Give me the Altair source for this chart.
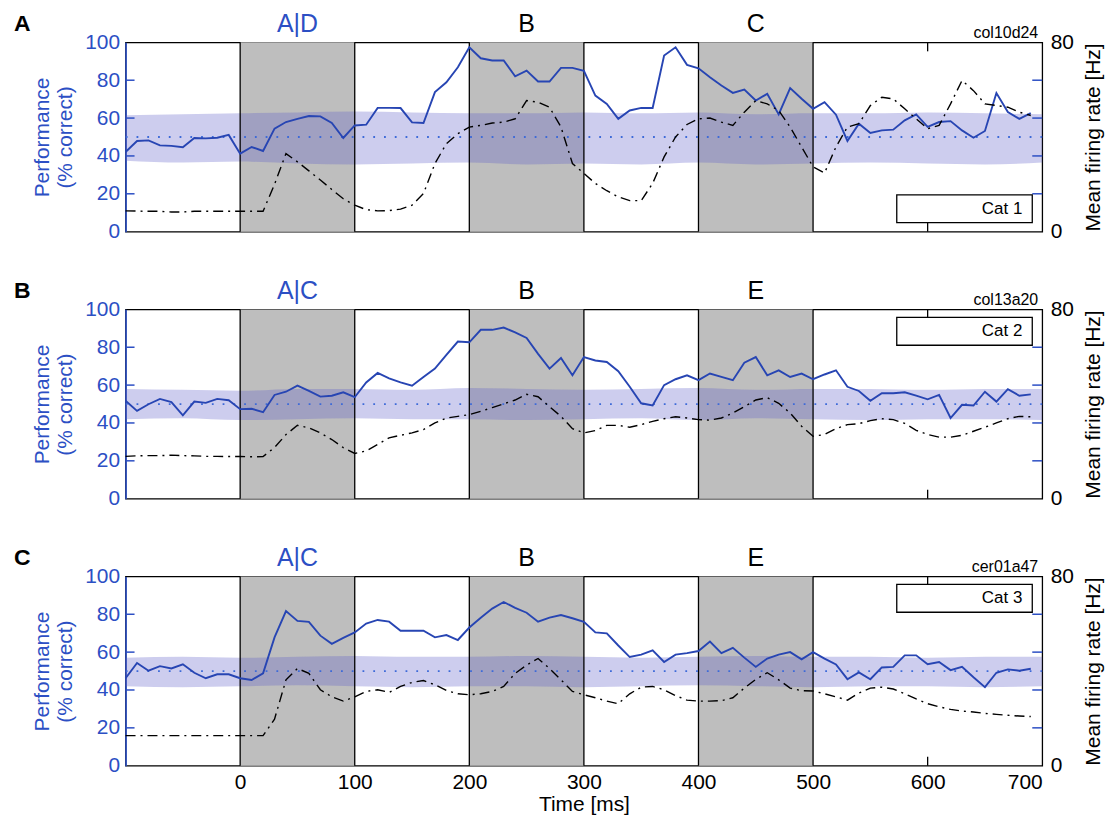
import altair as alt
import pandas as pd

# ---------------- data ----------------
T = list(range(-100, 700, 10))          # 80 samples, 10 ms apart
BAND_T = list(range(-100, 701, 50))      # chance-band outline samples

perf_A = [42.1, 47.9, 48.2, 45.6, 45.3, 44.6, 49.5, 49.3, 49.6, 51.1,
          41.2, 44.7, 42.6, 54.4, 57.9, 59.6, 61.1, 60.9, 57.4, 49.5,
          56.1, 56.5, 65.4, 65.4, 65.3, 57.7, 57.4, 73.7, 78.9, 86.8,
          97.4, 91.6, 90.4, 90.4, 82.1, 85.1, 79.3, 79.3, 86.5, 86.5,
          85.0, 71.9, 67.5, 59.6, 64.0, 65.4, 65.3, 93.0, 97.4, 88.1,
          86.3, 81.6, 77.2, 73.3, 75.1, 69.3, 72.8, 61.9, 75.8, 70.2,
          64.9, 68.4, 61.8, 47.9, 57.0, 52.1, 53.5, 53.9, 58.8, 61.9,
          55.3, 57.9, 58.4, 53.5, 49.6, 53.2, 73.2, 63.2, 59.6, 62.6]
fr_A = [8.8, 8.7, 8.6, 8.6, 8.3, 8.3, 8.6, 8.6, 8.6, 8.6,
        8.6, 8.6, 8.6, 20.0, 33.0, 29.5, 25.7, 21.8, 17.8, 13.9,
        11.2, 9.3, 8.8, 8.9, 9.5, 11.2, 16.1, 28.8, 37.2, 41.4,
        44.2, 44.9, 45.9, 46.3, 47.7, 55.4, 54.7, 52.6, 44.2, 28.8,
        24.6, 20.4, 17.3, 14.7, 13.1, 13.1, 20.4, 31.6, 40.0, 45.3,
        47.7, 48.0, 46.3, 44.9, 50.5, 55.4, 54.0, 51.2, 44.2, 35.8,
        27.4, 24.8, 35.8, 44.2, 45.6, 53.3, 56.8, 56.1, 51.9, 47.7,
        43.5, 44.9, 54.0, 63.9, 59.6, 54.0, 53.3, 52.6, 50.5, 49.1]
band_hi_A = [61.5, 62, 62.5, 63, 63.5, 63, 62.5, 62.5, 63, 62.5, 63, 62, 62.5, 62.5, 63, 62.5, 62]
band_lo_A = [37.5, 36.5, 37, 36, 35.5, 36, 36.5, 35.5, 36, 35.5, 36.5, 35.5, 36, 36.5, 36, 35.5, 36.5]

perf_B = [51.7, 46.4, 49.9, 52.7, 51.0, 44.0, 51.3, 50.6, 52.7, 52.0,
          47.3, 47.5, 45.7, 54.8, 56.5, 59.7, 56.9, 53.9, 54.4, 56.2,
          53.6, 61.4, 66.4, 63.5, 61.4, 59.7, 64.3, 68.7, 76.0, 83.0,
          82.6, 89.2, 89.2, 90.4, 87.8, 84.9, 76.5, 68.7, 74.3, 65.2,
          74.8, 73.0, 72.2, 67.3, 59.1, 50.4, 49.2, 60.0, 63.1, 65.2,
          62.6, 66.1, 64.3, 62.6, 71.8, 74.8, 65.2, 67.8, 64.3, 66.1,
          63.1, 65.6, 67.8, 59.1, 56.9, 51.7, 55.7, 55.7, 56.2, 54.4,
          52.5, 54.8, 42.6, 49.6, 49.2, 56.5, 51.3, 57.9, 54.4, 55.1]
fr_B = [17.9, 18.1, 18.2, 18.2, 18.4, 18.2, 18.1, 17.9, 17.9, 17.8,
        17.8, 17.7, 17.8, 21.6, 27.1, 31.0, 29.9, 27.8, 25.0, 21.6,
        19.1, 20.2, 22.9, 25.7, 26.8, 27.8, 29.2, 32.0, 34.1, 34.8,
        35.5, 36.9, 38.5, 40.1, 41.7, 44.1, 43.1, 38.9, 34.8, 29.6,
        27.8, 28.8, 31.0, 31.0, 30.2, 31.3, 32.7, 33.8, 34.6, 34.1,
        33.4, 33.2, 34.1, 36.2, 38.9, 41.7, 42.7, 40.3, 36.2, 30.6,
        26.4, 27.1, 29.6, 31.3, 31.7, 33.0, 33.8, 33.4, 31.8, 28.9,
        27.1, 26.0, 26.0, 26.8, 28.5, 30.2, 32.0, 33.8, 34.8, 34.6]
band_hi_B = [58, 57.5, 57, 58, 58, 57.5, 58.5, 58, 57.5, 58, 58.5, 57.5, 58, 58, 57.5, 58, 58]
band_lo_B = [42, 42.5, 41.5, 42, 42.5, 42, 42, 41.5, 42, 42.5, 41.5, 42.5, 42, 41.5, 42, 42, 41.5]

perf_C = [46.2, 54.3, 50.2, 52.6, 51.4, 53.6, 49.1, 46.2, 48.3, 48.3,
          46.2, 45.3, 48.8, 67.8, 81.7, 76.5, 76.0, 68.7, 64.4, 67.5,
          70.4, 75.1, 77.0, 76.1, 71.3, 71.3, 71.3, 67.8, 69.0, 66.4,
          73.0, 78.2, 83.0, 86.5, 83.4, 80.8, 76.1, 78.2, 79.6, 77.9,
          76.0, 70.4, 69.9, 63.5, 57.4, 58.7, 60.9, 54.8, 58.7, 59.5,
          60.6, 65.6, 59.5, 62.3, 57.1, 52.2, 56.6, 58.7, 60.0, 56.2,
          60.0, 56.6, 53.5, 45.7, 49.3, 45.7, 51.9, 52.2, 58.3, 58.3,
          53.6, 54.8, 50.5, 52.2, 46.7, 41.5, 49.1, 50.9, 50.2, 51.2]
fr_C = [12.7, 12.7, 12.7, 12.7, 12.7, 12.7, 12.7, 12.7, 12.7, 12.7,
        12.7, 12.7, 12.7, 19.7, 36.3, 41.1, 39.0, 32.1, 29.1, 27.3,
        29.1, 31.4, 32.1, 31.0, 33.5, 35.2, 36.0, 34.2, 31.8, 30.4,
        30.0, 30.4, 31.4, 33.5, 39.0, 42.5, 45.3, 41.1, 36.3, 31.4,
        30.0, 28.7, 27.3, 26.2, 30.4, 33.2, 33.5, 32.1, 29.6, 27.7,
        27.3, 27.3, 27.5, 28.7, 32.8, 36.5, 39.3, 36.3, 32.8, 31.7,
        31.6, 30.4, 29.1, 27.7, 30.7, 32.8, 33.2, 32.4, 30.4, 28.2,
        26.2, 24.9, 23.8, 23.1, 22.7, 22.1, 21.7, 21.3, 21.0, 20.8]
band_hi_C = [57, 57.5, 57, 57.5, 58, 57.5, 57.5, 58, 57.5, 57, 57.5, 58, 57.5, 57.5, 57, 57.5, 57.5]
band_lo_C = [42, 41.5, 42, 42.5, 42, 41.5, 42, 42, 41.5, 42, 42.5, 42, 41.5, 42, 42, 41.5, 42]

BOX_START = [0, 200, 400]
BOX_END = [100, 300, 500]
EDGES = [0, 100, 200, 300, 400, 500]
STIM_CENTER = [50, 250, 450]
STIM_A = ["A|D", "B", "C"]
STIM_B = ["A|C", "B", "E"]
STIM_C = ["A|C", "B", "E"]
PANEL_LETTERS = ["A", "B", "C"]
CELL_IDS = ["col10d24", "col13a20", "cer01a47"]
CATS = ["Cat 1", "Cat 2", "Cat 3"]
PERF_TICKS = [0, 20, 40, 60, 80, 100]
INNER_TICKS = [20, 40, 60, 80]
TIME_TICKS = [0, 100, 200, 300, 400, 500, 600, 700]
FR_TICKS = [0, 80]
CHANCE = [50]

# ---------------- style ----------------
W, H = 920, 190
BLUE_LINE = "#2745b3"
BLUE_TXT = "#2c4fc4"
FONT = "Liberation Sans"

xs = alt.Scale(domain=[-100, 700], nice=False, zero=False)
ys = alt.Scale(domain=[0, 100], nice=False, zero=False)
frs = alt.Scale(domain=[0, 80], nice=False, zero=False)


def panel(idx, perf, fr, hi, lo, stim, legend_top, last):
    line_df = pd.DataFrame({"t": T, "perf": perf, "fr": fr})
    band_df = pd.DataFrame({"t": BAND_T, "hi": hi, "lo": lo})
    box_df = pd.DataFrame({"s": BOX_START, "e": BOX_END})
    edge_df = pd.DataFrame({"t": EDGES})
    stim_df = pd.DataFrame({"t": STIM_CENTER, "lab": stim,
                            "col": [BLUE_TXT, "black", "black"]})
    tick_df = pd.DataFrame({"v": INNER_TICKS})
    chance_df = pd.DataFrame({"v": CHANCE})
    t600 = pd.DataFrame({"t": [600]})
    one = pd.DataFrame({"k": [0]})

    if last:
        xax = alt.Axis(values=TIME_TICKS, title="Time [ms]", labelFontSize=21, titleFontSize=21,
                       titleFontWeight="normal", ticks=False, domain=False, grid=False,
                       labelPadding=6, titlePadding=1, labelColor="black", titleColor="black",
                       labelFont=FONT, titleFont=FONT)
    else:
        xax = None
    yax = alt.Axis(values=PERF_TICKS, title=["Performance", "(% correct)"], labelColor=BLUE_TXT,
                   titleColor=BLUE_TXT, labelFontSize=21, titleFontSize=21, titleFontWeight="normal",
                   ticks=False, domainColor=BLUE_TXT, domainWidth=1.6, grid=False, labelPadding=6,
                   titlePadding=9, labelFont=FONT, titleFont=FONT, orient="left")

    def X(f):
        return alt.X(f, scale=xs, axis=xax)

    def Y(f):
        return alt.Y(f, scale=ys, axis=yax)

    boxes = alt.Chart(box_df).mark_rect(color="#bebebe").encode(x=X("s:Q"), x2="e:Q")
    band = alt.Chart(band_df).mark_area(color="#5e5ec8", opacity=0.31, interpolate="monotone").encode(
        x=X("t:Q"), y=Y("hi:Q"), y2="lo:Q")
    edges = alt.Chart(edge_df).mark_rule(color="black", strokeWidth=1.3).encode(x=X("t:Q"))
    chance = alt.Chart(chance_df).mark_rule(color="#3d6ad8", strokeDash=[1.8, 9], strokeWidth=1.8).encode(
        y=Y("v:Q"))
    perf_line = alt.Chart(line_df).mark_line(color=BLUE_LINE, strokeWidth=1.9).encode(
        x=X("t:Q"), y=Y("perf:Q"))

    ltick = alt.Chart(tick_df).mark_rule(color=BLUE_TXT, strokeWidth=1.5).encode(
        y=Y("v:Q"), x=alt.value(0), x2=alt.value(9))
    rtick = alt.Chart(tick_df).mark_rule(color=BLUE_TXT, strokeWidth=1.5).encode(
        y=Y("v:Q"), x=alt.value(W - 10), x2=alt.value(W))
    ttop = alt.Chart(t600).mark_rule(color="black", strokeWidth=1.3).encode(
        x=X("t:Q"), y=alt.value(0), y2=alt.value(9))
    tbot = alt.Chart(t600).mark_rule(color="black", strokeWidth=1.3).encode(
        x=X("t:Q"), y=alt.value(H - 9), y2=alt.value(H))

    leg_box = alt.Chart(one).mark_rect(fill="white", stroke="black", strokeWidth=1.3).encode(
        x=alt.value(774), x2=alt.value(910), y=alt.value(legend_top), y2=alt.value(legend_top + 28))
    leg_txt = alt.Chart(one).mark_text(align="right", baseline="middle", fontSize=17, font=FONT,
                                       color="black").encode(
        x=alt.value(900), y=alt.value(legend_top + 14), text=alt.value(CATS[idx]))

    stim_txt = alt.Chart(stim_df).mark_text(baseline="middle", fontSize=25, font=FONT).encode(
        x=X("t:Q"), y=alt.value(-18), text="lab:N", color=alt.Color("col:N", scale=None))
    letter = alt.Chart(one).mark_text(align="left", baseline="middle", fontSize=23, fontWeight="bold",
                                      font=FONT, color="black").encode(
        x=alt.value(-112), y=alt.value(-18), text=alt.value(PANEL_LETTERS[idx]))
    cell = alt.Chart(one).mark_text(align="right", baseline="middle", fontSize=16, font=FONT,
                                    color="black").encode(
        x=alt.value(W - 4), y=alt.value(-9), text=alt.value(CELL_IDS[idx]))

    perf_group = alt.layer(boxes, band, edges, chance, perf_line, ltick, rtick, ttop, tbot,
                           leg_box, leg_txt, stim_txt, letter, cell)

    frax = alt.Axis(values=FR_TICKS, orient="right", title="Mean firing rate [Hz]", titleAngle=270,
                    titleBaseline="top", labelFontSize=21, titleFontSize=21, titleFontWeight="normal",
                    ticks=False, domain=False, grid=False, labelPadding=8, titlePadding=9,
                    labelColor="black", titleColor="black", labelFont=FONT, titleFont=FONT)
    fr_line = alt.Chart(line_df).mark_line(color="black", strokeWidth=1.4,
                                           strokeDash=[10, 5, 2, 5]).encode(
        x=X("t:Q"), y=alt.Y("fr:Q", scale=frs, axis=frax))

    return alt.layer(perf_group, fr_line).resolve_scale(y="independent").properties(width=W, height=H)


pA = panel(0, perf_A, fr_A, band_hi_A, band_lo_A, STIM_A, 153, False)
pB = panel(1, perf_B, fr_B, band_hi_B, band_lo_B, STIM_B, 8, False)
pC = panel(2, perf_C, fr_C, band_hi_C, band_lo_C, STIM_C, 8, True)

chart = alt.vconcat(pA, pB, pC, spacing=78, bounds="flush").properties(
    padding={"left": 5, "top": 2, "right": 0, "bottom": 0}
).configure_view(stroke="black", strokeWidth=1.3).configure_axis(grid=False)

chart.save("out.html", embed_options={"renderer": "svg", "actions": False})
